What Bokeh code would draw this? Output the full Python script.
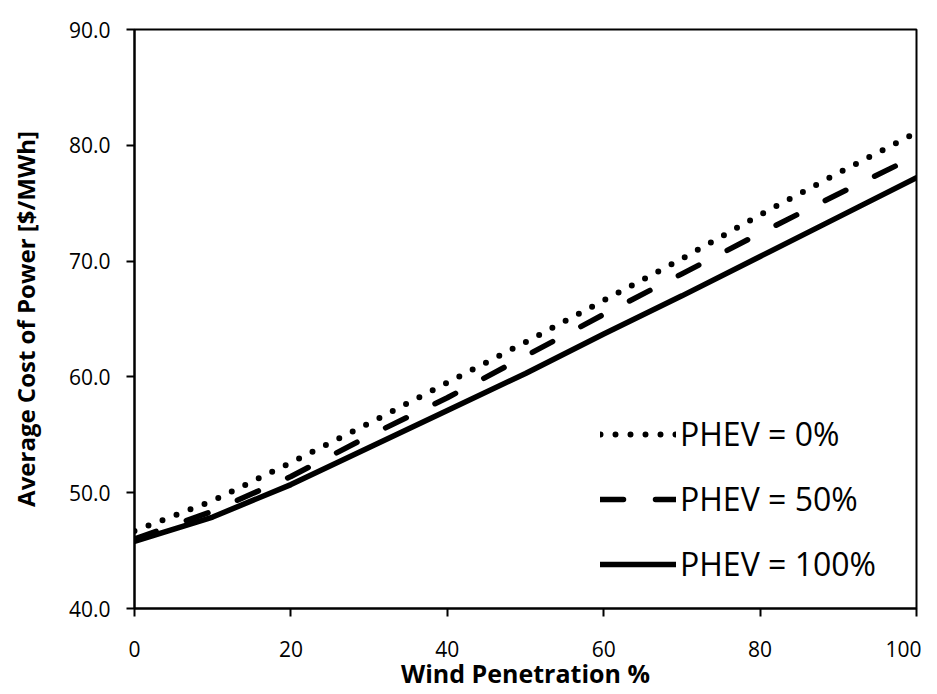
from bokeh.plotting import figure
from bokeh.models import Legend, LegendItem, Range1d, NumeralTickFormatter, FixedTicker
from bokeh.embed import file_html
from bokeh.resources import INLINE

# Data
wind_pct = [0, 10, 20, 30, 40, 50, 60, 70, 80, 90, 100]
phev_0 = [46.7, 49.3, 52.6, 56.0, 59.5, 63.0, 66.6, 70.2, 74.0, 77.6, 81.1]
phev_50 = [46.0, 48.4, 51.4, 54.9, 58.2, 61.8, 65.4, 68.9, 72.4, 75.8, 79.1]
phev_100 = [45.8, 47.9, 50.7, 53.9, 57.1, 60.3, 63.7, 67.0, 70.4, 73.8, 77.2]
labels = ["PHEV = 0%", "PHEV = 50%", "PHEV = 100%"]
x_ticks = [0, 20, 40, 60, 80, 100]
y_ticks = [40, 50, 60, 70, 80, 90]

FONT = "Open Sans"

p = figure(output_backend="svg", toolbar_location=None,
           x_range=Range1d(0, 100), y_range=Range1d(40, 90),
           frame_width=782, frame_height=579,
           min_border_left=134, min_border_right=5, min_border_top=29, min_border_bottom=60)

p.background_fill_color = "white"
p.border_fill_color = "white"
p.outline_line_color = "black"
p.outline_line_width = 2
p.xgrid.visible = False
p.ygrid.visible = False

r0 = p.line(wind_pct, phev_0, line_color="black", line_width=6, line_dash="0 15", line_cap="round")
r50 = p.line(wind_pct, phev_50, line_color="black", line_width=5.5, line_dash="23 32", line_cap="round")
r100 = p.line(wind_pct, phev_100, line_color="black", line_width=5.5, line_cap="round")

for ax in (p.xaxis[0], p.yaxis[0]):
    ax.axis_line_color = "black"
    ax.axis_line_width = 2
    ax.major_tick_line_color = "black"
    ax.major_tick_line_width = 2
    ax.major_tick_in = 0
    ax.major_tick_out = 8
    ax.minor_tick_line_color = None
    ax.major_label_text_font = FONT
    ax.major_label_text_font_size = "21px"
    ax.major_label_text_color = "black"
    ax.axis_label_text_font = FONT
    ax.axis_label_text_font_style = "bold"
    ax.axis_label_text_color = "black"

p.xaxis.axis_label_text_font_size = "25px"
p.yaxis.axis_label_text_font_size = "24px"
p.xaxis.ticker = FixedTicker(ticks=x_ticks)
p.yaxis.ticker = FixedTicker(ticks=y_ticks)
p.yaxis.formatter = NumeralTickFormatter(format="0.0")
p.xaxis.axis_label = "Wind Penetration %"
p.yaxis.axis_label = "Average Cost of Power [$/MWh]"
p.xaxis.major_label_standoff = 24
p.yaxis.major_label_standoff = 16
p.xaxis.axis_label_standoff = -4
p.yaxis.axis_label_standoff = 24

legend = Legend(items=[LegendItem(label=labels[0], renderers=[r0]),
                       LegendItem(label=labels[1], renderers=[r50]),
                       LegendItem(label=labels[2], renderers=[r100])],
                location=(466, 23), orientation="vertical",
                border_line_color=None, background_fill_alpha=0,
                padding=0, margin=0, spacing=22,
                glyph_width=76, glyph_height=32, label_height=32,
                label_standoff=4,
                label_text_font=FONT, label_text_font_size="32px",
                label_text_color="black")
p.add_layout(legend, "center")

open("out.html", "w").write(file_html(p, INLINE))
